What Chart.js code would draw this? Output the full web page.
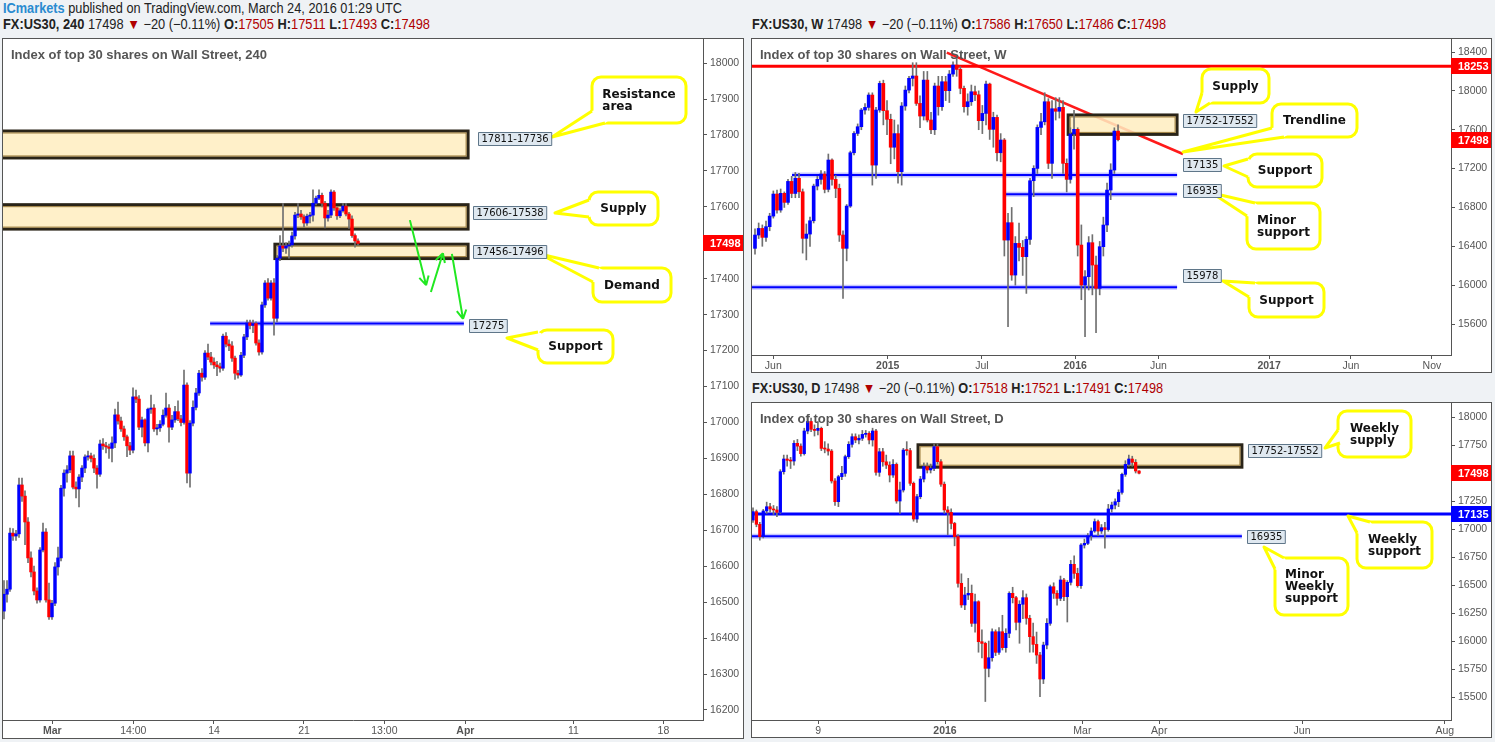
<!DOCTYPE html>
<html>
<head>
<meta charset="utf-8">
<script src="https://cdn.jsdelivr.net/npm/chart.js@4.4.1/dist/chart.umd.min.js"></script>
<style>
  body { margin: 0; width: 1495px; height: 742px; overflow: hidden; position: relative; background: #eff2f5; font-family: "Liberation Sans", Arial, sans-serif; }
  .hdr { position: absolute; white-space: nowrap; font-size: 14px; line-height: 16px; color: #222; transform-origin: 0 50%; }
  .hdr b { font-weight: 700; }
  .hdr .r { color: #b00000; }
  .hdr .ic { color: #2a8bd0; }
  .panel { position: absolute; border: 1px solid #555; background: #fff; }
  .panel canvas { display: block; }
</style>
</head>
<body>
<div class="hdr" data-w="399" style="left:3px;top:0px"><b class="ic">ICmarkets</b> published on TradingView.com, March 24, 2016 01:29 UTC</div>
<div class="hdr" data-w="427" style="left:3px;top:16px"><b>FX:US30, 240</b> 17498 <span class="r">▼</span> −20 (−0.11%) <b>O:</b><span class="r">17505</span> <b>H:</b><span class="r">17511</span> <b>L:</b><span class="r">17493</span> <b>C:</b><span class="r">17498</span></div>
<div class="hdr" data-w="414" style="left:752px;top:16px"><b>FX:US30, W</b> 17498 <span class="r">▼</span> −20 (−0.11%) <b>O:</b><span class="r">17586</span> <b>H:</b><span class="r">17650</span> <b>L:</b><span class="r">17486</span> <b>C:</b><span class="r">17498</span></div>
<div class="hdr" data-w="411" style="left:752px;top:380px"><b>FX:US30, D</b> 17498 <span class="r">▼</span> −20 (−0.11%) <b>O:</b><span class="r">17518</span> <b>H:</b><span class="r">17521</span> <b>L:</b><span class="r">17491</span> <b>C:</b><span class="r">17498</span></div>

<div class="panel" style="left:2px;top:38px"><canvas id="c240" width="740" height="699"></canvas></div>
<div class="panel" style="left:751px;top:38px"><canvas id="cW" width="739" height="333"></canvas></div>
<div class="panel" style="left:751px;top:402px"><canvas id="cD" width="739" height="334"></canvas></div>

<script>
// ---- 240 min candles (Feb 26 - Mar 24 2016)
const open240 = [16475,16522,16536,16692,16684,16690,16826,16795,16723,16623,
  16584,16531,16506,16645,16695,16506,16459,16497,16598,16623,
  16817,16859,16868,16907,16820,16815,16848,16873,16904,16907,
  16900,16873,16856,16940,16935,16932,16928,16943,17021,17004,
  16982,16960,16935,16923,17071,17065,16987,17007,16943,17037,
  17040,16982,16985,16995,17020,17040,16987,17007,17030,17010,
  17000,17104,16859,16998,17042,17082,17137,17126,17193,17182,
  17168,17160,17155,17151,17240,17218,17213,17179,17137,17132,
  17187,17238,17277,17270,17275,17221,17196,17327,17388,17346,
  17388,17290,17457,17491,17485,17491,17494,17519,17577,17580,
  17572,17555,17574,17577,17610,17624,17632,17610,17569,17577,
  17641,17597,17575,17589,17602,17580,17566,17520,17505];
const high240 = [16560,16560,16706,16705,16700,16845,16845,16810,16735,16640,
  16600,16540,16652,16720,16705,16553,16505,16610,16653,16825,
  16868,16880,16920,16920,16835,16855,16880,16910,16920,16915,
  16910,16880,16951,16955,16945,16940,16960,17037,17057,17015,
  16990,16965,16945,17096,17090,17075,17015,17010,17040,17076,
  17050,16995,17005,17035,17082,17050,17020,17045,17060,17020,
  17146,17110,17005,17060,17095,17145,17150,17200,17218,17195,
  17180,17170,17165,17246,17250,17230,17225,17185,17145,17195,
  17245,17285,17285,17285,17280,17230,17335,17395,17400,17395,
  17400,17465,17520,17610,17500,17505,17530,17585,17610,17590,
  17578,17580,17585,17647,17630,17647,17638,17615,17590,17647,
  17645,17600,17595,17610,17610,17585,17575,17525,17511];
const low240 = [16453,16500,16530,16672,16672,16680,16780,16660,16610,16570,
  16520,16497,16500,16640,16500,16452,16452,16490,16575,16615,
  16795,16834,16860,16815,16790,16765,16835,16860,16895,16890,
  16860,16817,16850,16925,16915,16900,16890,16930,16995,16975,
  16950,16905,16910,16915,17055,16980,16960,16935,16918,17025,
  16975,16965,16975,16990,17015,16945,16980,17000,17005,16990,
  16995,16832,16820,16990,17035,17075,17115,17120,17175,17160,
  17150,17130,17140,17145,17210,17200,17170,17120,17123,17128,
  17180,17230,17260,17250,17215,17187,17190,17320,17340,17340,
  17243,17280,17450,17475,17470,17457,17488,17510,17570,17565,
  17544,17548,17555,17560,17605,17620,17600,17541,17560,17570,
  17590,17565,17570,17585,17575,17540,17515,17488,17493];
const close240 = [16522,16536,16692,16684,16690,16826,16795,16723,16623,16584,
  16531,16506,16645,16695,16506,16459,16497,16598,16623,16817,
  16859,16868,16907,16820,16815,16848,16873,16904,16907,16900,
  16873,16856,16940,16935,16932,16928,16943,17021,17004,16982,
  16960,16935,16923,17071,17065,16987,17007,16943,17037,17040,
  16982,16985,16995,17020,17040,16987,17007,17030,17010,17000,
  17104,16859,16998,17042,17082,17137,17126,17193,17182,17168,
  17160,17155,17151,17240,17218,17213,17179,17137,17132,17187,
  17238,17277,17270,17275,17221,17196,17327,17388,17346,17388,
  17290,17457,17491,17485,17491,17494,17519,17577,17580,17572,
  17555,17574,17577,17610,17624,17632,17610,17569,17577,17641,
  17597,17575,17589,17602,17580,17566,17520,17505,17498];
const xTicks240 = [16.1, 43.1, 70.0, 100.0, 126.8, 153.8, 189.8, 219.8];
const xLabels240 = ['Mar', '14:00', '14', '21', '13:00', 'Apr', '11', '18'];
const yTicks240 = [16200,16300,16400,16500,16600,16700,16800,16900,17000,17100,17200,17300,17400,17500,17600,17700,17800,17900,18000];

// ---- weekly candles (May 2014 - Mar 2016)
const openW = [16379,16516,16584,16492,16602,16711,16938,16773,16945,16852,
  17068,16944,17100,16961,16482,16526,16663,17020,17089,17144,
  16986,17288,17089,16996,16516,16379,16814,17363,17562,17631,
  17803,17830,17957,17236,17803,18077,17796,17707,17420,17560,
  17168,17844,18008,18129,18153,17871,17741,18111,17700,17600,
  18050,17837,18094,18002,18173,18266,18221,18026,17837,17888,
  17991,17960,17693,17768,18070,17604,17727,17363,17494,16464,
  16643,16104,16430,16389,16293,16471,17075,17202,17624,17682,
  17888,17254,17816,17790,17830,17254,17089,17556,17604,16413,
  16001,16087,16437,16207,15967,16396,16619,16979,17185,17586];
const highW = [16580,16640,16620,16660,16740,16970,16980,16990,16960,17090,
  17120,17160,17150,16990,16630,16700,17040,17120,17180,17170,
  17350,17300,17130,17040,16560,16830,17380,17580,17660,17820,
  17870,17980,17980,17830,18100,18110,17900,17760,17700,17650,
  17880,18050,18150,18290,18290,17950,18200,18200,17780,18080,
  18150,18150,18150,18210,18300,18330,18250,18050,17970,18060,
  18050,18000,17850,18100,18080,17780,17750,17560,17510,16740,
  16800,16500,16640,16460,16500,17100,17230,17650,17770,17981,
  17920,17900,17930,17930,17900,17300,17620,17800,17620,16620,
  16150,16500,16520,16300,16450,16700,17050,17250,17620,17650];
const lowW = [16320,16480,16400,16450,16560,16690,16740,16750,16800,16830,
  16900,16900,16900,16330,16260,16400,16640,16980,17040,16950,
  16960,17030,16900,16450,15864,16250,16800,17340,17540,17600,
  17760,17800,17030,17100,17780,17650,17550,17250,17300,17050,
  17030,17800,17980,18050,17850,17620,17700,17680,17560,17550,
  17750,17800,17900,17880,18150,18150,17970,17780,17750,17850,
  17900,17600,17560,17650,17500,17420,17280,17270,16300,15572,
  16050,16000,16250,16100,15915,16420,16911,17150,17550,17650,
  17200,17100,17700,17720,17150,16960,17050,17400,16300,15850,
  15470,15950,15900,15511,15900,16300,16550,16880,17150,17486];
const closeW = [16516,16584,16492,16602,16711,16938,16773,16945,16852,17068,
  16944,17100,16961,16482,16526,16663,17020,17089,17144,16986,
  17288,17089,16996,16516,16379,16814,17363,17562,17631,17803,
  17830,17957,17236,17803,18077,17796,17707,17420,17560,17168,
  17844,18008,18129,18153,17871,17741,18111,17700,17600,18050,
  17837,18094,18002,18173,18266,18221,18026,17837,17888,17991,
  17960,17693,17768,18070,17604,17727,17363,17494,16464,16643,
  16104,16430,16389,16293,16471,17075,17202,17624,17682,17888,
  17254,17816,17790,17830,17254,17089,17556,17604,16413,16001,
  16087,16437,16207,15967,16396,16619,16979,17185,17586,17498];
const xTicksW = [5.0, 36.2, 61.9, 87.3, 110.0, 140.2, 162.5, 184.6];
const xLabelsW = ['Jun', '2015', 'Jul', '2016', 'Jun', '2017', 'Jun', 'Nov'];
const yTicksW = [15600, 16000, 16400, 16800, 17200, 17600, 18000, 18400];

// ---- daily candles (Oct 12 2015 - Mar 24 2016)
const openD = [17080,17155,17042,16932,17161,17199,17179,17170,17149,17512,
  17625,17613,17607,17765,17740,17673,17875,17960,17890,17880,
  17899,17720,17714,17696,17429,17244,17467,17497,17646,17756,
  17824,17795,17810,17845,17854,17795,17875,17506,17690,17600,
  17571,17482,17577,17250,17348,17705,17700,17408,17089,17289,
  17446,17557,17527,17542,17735,17601,17400,17170,17149,17050,
  16932,16515,16322,16411,16426,16158,16351,15994,15979,15756,
  15851,16083,15899,16083,15941,16069,16426,16387,16167,16328,
  16387,16203,16039,15970,15875,15661,15964,16158,16485,16426,
  16381,16545,16396,16524,16685,16604,16494,16857,16872,16941,
  16982,17066,16982,17012,16995,17179,17214,17244,17327,17488,
  17577,17625,17595,17518];
const highD = [17190,17170,17060,17175,17240,17230,17210,17200,17530,17660,
  17660,17640,17790,17800,17760,17900,18010,17990,17930,17960,
  17910,17780,17760,17710,17450,17480,17560,17660,17780,17850,
  17850,17840,17880,17880,17870,17900,17890,17720,17720,17660,
  17600,17620,17590,17420,17720,17780,17720,17420,17310,17470,
  17590,17590,17580,17760,17760,17620,17420,17200,17180,17060,
  16950,16600,16480,16560,16500,16420,16360,16100,15990,16000,
  16110,16100,16120,16230,16110,16440,16480,16400,16360,16450,
  16420,16230,16160,16080,15900,15990,16200,16500,16520,16450,
  16580,16560,16540,16720,16760,16650,16870,16910,16960,17010,
  17090,17080,17040,17060,17220,17240,17270,17350,17500,17610,
  17660,17650,17620,17521];
const lowD = [17060,17020,16900,16920,17140,17150,17130,17110,17140,17490,
  17560,17540,17570,17700,17650,17660,17850,17870,17830,17840,
  17700,17680,17660,17410,17210,17200,17440,17470,17630,17730,
  17770,17760,17790,17820,17760,17740,17480,17470,17560,17540,
  17420,17460,17230,17140,17330,17660,17390,17070,17060,17270,
  17420,17500,17500,17520,17580,17380,17140,16950,17000,16850,
  16480,16300,16280,16370,16130,16080,15900,15850,15460,15680,
  15820,15870,15880,15920,15900,16030,16340,16100,15980,16200,
  16150,15900,15900,15800,15503,15620,15930,16140,16380,16320,
  16360,16360,16170,16500,16560,16480,16470,16830,16860,16900,
  16970,16940,16960,16828,16980,17150,17180,17200,17310,17470,
  17560,17560,17500,17491];
const closeD = [17155,17042,16932,17161,17199,17179,17170,17149,17512,17625,
  17613,17607,17765,17740,17673,17875,17960,17890,17880,17899,
  17720,17714,17696,17429,17244,17467,17497,17646,17756,17824,
  17795,17810,17845,17854,17795,17875,17506,17690,17600,17571,
  17482,17577,17250,17348,17705,17700,17408,17089,17289,17446,
  17557,17527,17542,17735,17601,17400,17170,17149,17050,16932,
  16515,16322,16411,16426,16158,16351,15994,15979,15756,15851,
  16083,15899,16083,15941,16069,16426,16387,16167,16328,16387,
  16203,16039,15970,15875,15661,15964,16158,16485,16426,16381,
  16545,16396,16524,16685,16604,16494,16857,16872,16941,16982,
  17066,16982,17012,16995,17179,17214,17244,17327,17488,17577,
  17625,17595,17518,17498];
const xTicksD = [19.1, 56.2, 96.4, 118.9, 160.7, 202.5];
const xLabelsD = ['9', '2016', 'Mar', 'Apr', 'Jun', 'Aug'];
const yTicksD = [15500, 15750, 16000, 16250, 16500, 16750, 17000, 17250, 17500, 17750, 18000];

const UP = '#0000ff', DOWN = '#ff0000', WICK = '#707070';
const AXIS_FONT = { family: '"Liberation Sans", Arial, sans-serif', size: 10.5 };

function roundRect(ctx, x, y, w, h, r) {
  ctx.beginPath();
  ctx.moveTo(x + r, y);
  ctx.arcTo(x + w, y, x + w, y + h, r);
  ctx.arcTo(x + w, y + h, x, y + h, r);
  ctx.arcTo(x, y + h, x, y, r);
  ctx.arcTo(x, y, x + w, y, r);
  ctx.closePath();
}

function drawCallout(ctx, c) {
  const [bx, by, bw, bh] = c.box;
  const cx = bx + bw / 2, cy = by + bh / 2;
  const inward = ([px, py]) => {
    const dx = cx - px, dy = cy - py, d = Math.hypot(dx, dy);
    return [px + dx / d * 4, py + dy / d * 4];
  };
  ctx.lineWidth = 3;
  ctx.lineJoin = 'round';
  ctx.strokeStyle = '#ffff00';
  ctx.fillStyle = '#fff';
  roundRect(ctx, bx, by, bw, bh, 9);
  ctx.fill();
  ctx.stroke();
  const [b0, b1] = c.base, i0 = inward(b0), i1 = inward(b1);
  ctx.beginPath();
  ctx.moveTo(...i0); ctx.lineTo(...b0); ctx.lineTo(...c.tip); ctx.lineTo(...b1); ctx.lineTo(...i1);
  ctx.closePath();
  ctx.fill();
  ctx.beginPath();
  ctx.moveTo(...b0); ctx.lineTo(...c.tip); ctx.lineTo(...b1);
  ctx.stroke();

  ctx.font = 'bold 12px "DejaVu Sans", Verdana, sans-serif';
  ctx.fillStyle = '#111';
  ctx.textAlign = 'left';
  ctx.textBaseline = 'middle';
  const maxW = Math.max(...c.lines.map(t => ctx.measureText(t).width));
  c.lines.forEach((t, i) => {
    ctx.fillText(t, cx - maxW / 2, cy - (c.lines.length - 1) * 6 + i * 12 + 0.5);
  });
}

// zones, lines, tags and callouts; values in data units, callouts in canvas px
function makeDrawings(cfg) {
  return {
    id: 'drawings',
    beforeDatasetsDraw(chart) {
      const { ctx, chartArea: a, scales: { x, y } } = chart;
      ctx.save();
      ctx.beginPath();
      ctx.rect(a.left, a.top, a.right - a.left, a.bottom - a.top);
      ctx.clip();
      (cfg.trends || []).forEach(t => {
        ctx.strokeStyle = t.color;
        ctx.lineWidth = t.width;
        ctx.beginPath();
        ctx.moveTo(x.getPixelForValue(t.from[0]), y.getPixelForValue(t.from[1]));
        ctx.lineTo(x.getPixelForValue(t.to[0]), y.getPixelForValue(t.to[1]));
        ctx.stroke();
      });
      (cfg.hlines || []).forEach(h => {
        const py = y.getPixelForValue(h.y);
        const x0 = h.x0 == null ? a.left : x.getPixelForValue(h.x0);
        const x1 = h.x1 == null ? a.right : x.getPixelForValue(h.x1);
        if (h.halo) {
          ctx.strokeStyle = 'rgba(90,90,255,0.35)';
          ctx.lineWidth = h.width + 3;
          ctx.beginPath(); ctx.moveTo(x0, py); ctx.lineTo(x1, py); ctx.stroke();
        }
        ctx.strokeStyle = h.color;
        ctx.lineWidth = h.width;
        ctx.beginPath(); ctx.moveTo(x0, py); ctx.lineTo(x1, py); ctx.stroke();
      });
      (cfg.zones || []).forEach(z => {
        const x0 = x.getPixelForValue(z.x0), x1 = x.getPixelForValue(z.x1);
        const y0 = y.getPixelForValue(z.hi), y1 = y.getPixelForValue(z.lo);
        ctx.fillStyle = 'rgba(255,237,192,0.86)';
        ctx.fillRect(x0, y0, x1 - x0, y1 - y0);
        ctx.strokeStyle = '#2a2418';
        ctx.lineWidth = 3;
        ctx.strokeRect(x0, y0, x1 - x0, y1 - y0);
        ctx.strokeStyle = '#9c7c3c';
        ctx.lineWidth = 1;
        ctx.strokeRect(x0 + 2, y0 + 2, x1 - x0 - 4, y1 - y0 - 4);
      });
      ctx.restore();
    },
    afterDraw(chart) {
      const { ctx, chartArea: a, scales: { x, y } } = chart;
      ctx.save();
      (cfg.arrows || []).forEach(ar => {
        const x0 = x.getPixelForValue(ar.from[0]), y0 = y.getPixelForValue(ar.from[1]);
        const x1 = x.getPixelForValue(ar.to[0]), y1 = y.getPixelForValue(ar.to[1]);
        const ang = Math.atan2(y1 - y0, x1 - x0);
        ctx.strokeStyle = '#21e821';
        ctx.lineWidth = 2;
        ctx.beginPath();
        ctx.moveTo(x0, y0); ctx.lineTo(x1, y1);
        [-0.5, 0.5].forEach(s => {
          ctx.moveTo(x1, y1);
          ctx.lineTo(x1 - 10 * Math.cos(ang + s), y1 - 10 * Math.sin(ang + s));
        });
        ctx.stroke();
      });
      (cfg.callouts || []).forEach(c => drawCallout(ctx, c));
      ctx.font = '10px "DejaVu Sans", Verdana, sans-serif';
      ctx.textBaseline = 'middle';
      ctx.textAlign = 'left';
      (cfg.tags || []).forEach(t => {
        const w = ctx.measureText(t.text).width + 6;
        const bx = Math.round(x.getPixelForValue(t.x)) + 0.5;
        const by = Math.round(y.getPixelForValue(t.y) - 6.5) + 0.5;
        ctx.fillStyle = '#dfe8f0';
        ctx.fillRect(bx, by, w, 13);
        ctx.strokeStyle = '#5f7689';
        ctx.lineWidth = 1;
        ctx.strokeRect(bx, by, w, 13);
        ctx.fillStyle = '#111';
        ctx.fillText(t.text, bx + 3, by + 7);
      });
      (cfg.priceTags || []).forEach(p => {
        const py = Math.round(y.getPixelForValue(p.y));
        ctx.fillStyle = p.bg;
        ctx.fillRect(a.right, py - 8, chart.width - a.right, 16);
        ctx.fillStyle = '#fff';
        ctx.font = 'bold 11px "Liberation Sans", Arial, sans-serif';
        ctx.textBaseline = 'middle';
        ctx.fillText(p.text, a.right + 7, py + 0.5);
      });
      ctx.font = 'bold 13px "Liberation Sans", Arial, sans-serif';
      ctx.fillStyle = '#555';
      ctx.textBaseline = 'middle';
      ctx.fillText(cfg.title, a.left + 8, a.top + 16);
      ctx.restore();
    },
  };
}

// scales keep no automatic label padding, so the plot fills the panel exactly
function noPad(s) {
  s.paddingTop = 0; s.paddingBottom = 0; s.paddingLeft = 0; s.paddingRight = 0;
}

function candleChart(id, o, h, l, c, bodyW, xs, ys, cfg) {
  return new Chart(document.getElementById(id), {
    type: 'bar',
    plugins: [makeDrawings(cfg)],
    data: {
      datasets: [
        {
          data: c.map((v, i) => ({ x: i, y: [o[i], v] })),
          backgroundColor: c.map((v, i) => (v >= o[i] ? UP : DOWN)),
          barThickness: bodyW, grouped: false, minBarLength: 1, borderWidth: 0,
        },
        {
          data: c.map((v, i) => ({ x: i, y: [l[i], h[i]] })),
          backgroundColor: WICK, barThickness: 1, grouped: false, borderWidth: 0,
        },
      ],
    },
    options: {
      responsive: false,
      animation: false,
      devicePixelRatio: 1,
      layout: { padding: 0, autoPadding: false },
      plugins: { legend: { display: false }, tooltip: { enabled: false } },
      scales: {
        x: {
          type: 'linear', min: xs.min, max: xs.max, offset: false,
          afterBuildTicks: (s) => { s.ticks = xs.ticks.map((v) => ({ value: v })); },
          afterFit: (s) => { s.height = xs.height; noPad(s); },
          grid: { drawOnChartArea: false, offset: false, tickLength: 4, color: '#555' },
          border: { color: '#555' },
          ticks: {
            autoSkip: false, maxRotation: 0, padding: 1, color: '#555',
            callback: (v, i) => xs.labels[i],
            font: (ctx) => ({ ...AXIS_FONT, weight: xs.bold.includes(xs.labels[ctx.index]) ? 'bold' : 'normal' }),
          },
        },
        y: {
          type: 'linear', position: 'right', min: ys.min, max: ys.max,
          afterBuildTicks: (s) => { s.ticks = ys.ticks.map((v) => ({ value: v })); },
          afterFit: (s) => { s.width = 40; noPad(s); },
          grid: { drawOnChartArea: false, tickLength: 4, color: '#555' },
          border: { color: '#555' },
          ticks: { padding: 3, color: '#555', font: AXIS_FONT, callback: (v) => String(v) },
        },
      },
    },
  });
}

candleChart('c240', open240, high240, low240, close240, 2.8,
  { min: -0.333, max: 233, ticks: xTicks240, labels: xLabels240, bold: ['Mar', 'Apr'], height: 18 },
  { min: 16172, max: 18067, ticks: yTicks240 },
  {
    title: 'Index of top 30 shares on Wall Street, 240',
    zones: [
      { lo: 17736, hi: 17811, x0: -5, x1: 154.7 },
      { lo: 17538, hi: 17606, x0: -5, x1: 154.7 },
      { lo: 17456, hi: 17496, x0: 90.3, x1: 154.7 },
    ],
    hlines: [{ y: 17275, x0: 68.7, x1: 153.3, color: '#0000ff', width: 2, halo: true }],
    tags: [
      { x: 158, y: 17789, text: '17811-17736' },
      { x: 156.3, y: 17584, text: '17606-17538' },
      { x: 156.3, y: 17476, text: '17456-17496' },
      { x: 155, y: 17270, text: '17275' },
    ],
    arrows: [
      { from: [135.3, 17563], to: [140.7, 17382] },
      { from: [142.3, 17363], to: [146.3, 17471] },
      { from: [149.3, 17469], to: [153, 17288] },
    ],
    priceTags: [{ y: 17498, text: '17498', bg: '#ff0000' }],
    callouts: [
      { box: [589, 38, 94, 46], tip: [549, 98], base: [[589, 72], [602, 84]], lines: ['Resistance', 'area'] },
      { box: [586, 153, 69, 33], tip: [552, 174], base: [[586, 161], [586, 178]], lines: ['Supply'] },
      { box: [590, 229, 78, 34], tip: [537, 215], base: [[596, 229], [590, 243]], lines: ['Demand'] },
      { box: [535, 291, 75, 33], tip: [504, 299], base: [[535, 293], [535, 311]], lines: ['Support'] },
    ],
  });

candleChart('cW', openW, highW, lowW, closeW, 3,
  { min: -0.818, max: 189.8, ticks: xTicksW, labels: xLabelsW, bold: ['2015', '2016', '2017'], height: 17 },
  { min: 15281, max: 18534, ticks: yTicksW },
  {
    title: 'Index of top 30 shares on Wall Street, W',
    trends: [{ from: [52.3, 18393], to: [116.7, 17350], color: '#ff1a1a', width: 2.5 }],
    hlines: [
      { y: 18253, color: '#ff0000', width: 3 },
      { y: 17135, x0: 10.1, x1: 115.1, color: '#0000ff', width: 2, halo: true },
      { y: 16935, x0: 68.4, x1: 115.1, color: '#0000ff', width: 2, halo: true },
      { y: 15978, x0: -5, x1: 115.1, color: '#0000ff', width: 2, halo: true },
    ],
    zones: [{ lo: 17552, hi: 17752, x0: 85.4, x1: 115.1 }],
    tags: [
      { x: 116.7, y: 17700, text: '17752-17552' },
      { x: 116.7, y: 17237, text: '17135' },
      { x: 116.7, y: 16979, text: '16935' },
      { x: 116.7, y: 16104, text: '15978' },
    ],
    priceTags: [
      { y: 18253, text: '18253', bg: '#ff0000' },
      { y: 17498, text: '17498', bg: '#ff0000' },
    ],
    callouts: [
      { box: [450, 30, 67, 34], tip: [444, 73], base: [[450, 54], [458, 64]], lines: ['Supply'] },
      { box: [520, 65, 85, 33], tip: [431, 113], base: [[520, 89], [532, 98]], lines: ['Trendline'] },
      { box: [496, 115, 74, 33], tip: [472, 127], base: [[496, 120], [496, 138]], lines: ['Support'] },
      { box: [495, 164, 73, 46], tip: [460, 154], base: [[503, 164], [495, 177]], lines: ['Minor', 'support'] },
      { box: [497, 244, 75, 34], tip: [471, 242], base: [[503, 244], [497, 258]], lines: ['Support'] },
    ],
  });

candleChart('cD', openD, highD, lowD, closeD, 2.6,
  { min: -0.293, max: 204.3, ticks: xTicksD, labels: xLabelsD, bold: ['2016'], height: 17 },
  { min: 15295, max: 18125, ticks: yTicksD },
  {
    title: 'Index of top 30 shares on Wall Street, D',
    hlines: [
      { y: 17135, color: '#0000ff', width: 3 },
      { y: 16935, x0: -5, x1: 143.1, color: '#0000ff', width: 2, halo: true },
    ],
    zones: [{ lo: 17552, hi: 17752, x0: 48.3, x1: 143.1 }],
    tags: [
      { x: 144.9, y: 17705, text: '17752-17552' },
      { x: 144.6, y: 16937, text: '16935' },
    ],
    priceTags: [
      { y: 17498, text: '17498', bg: '#ff0000' },
      { y: 17135, text: '17135', bg: '#0000ff' },
    ],
    callouts: [
      { box: [586, 8, 73, 46], tip: [573, 45], base: [[586, 27], [588, 40]], lines: ['Weekly', 'supply'] },
      { box: [605, 119, 75, 46], tip: [596, 113], base: [[618, 119], [605, 130]], lines: ['Weekly', 'support'] },
      { box: [523, 155, 73, 57], tip: [512, 144], base: [[532, 155], [523, 166]], lines: ['Minor', 'Weekly', 'support'] },
    ],
  });

document.querySelectorAll('.hdr').forEach((el) => {
  const w = el.getBoundingClientRect().width;
  el.style.transform = 'scaleX(' + (el.dataset.w / w) + ')';
});
</script>
</body>
</html>
